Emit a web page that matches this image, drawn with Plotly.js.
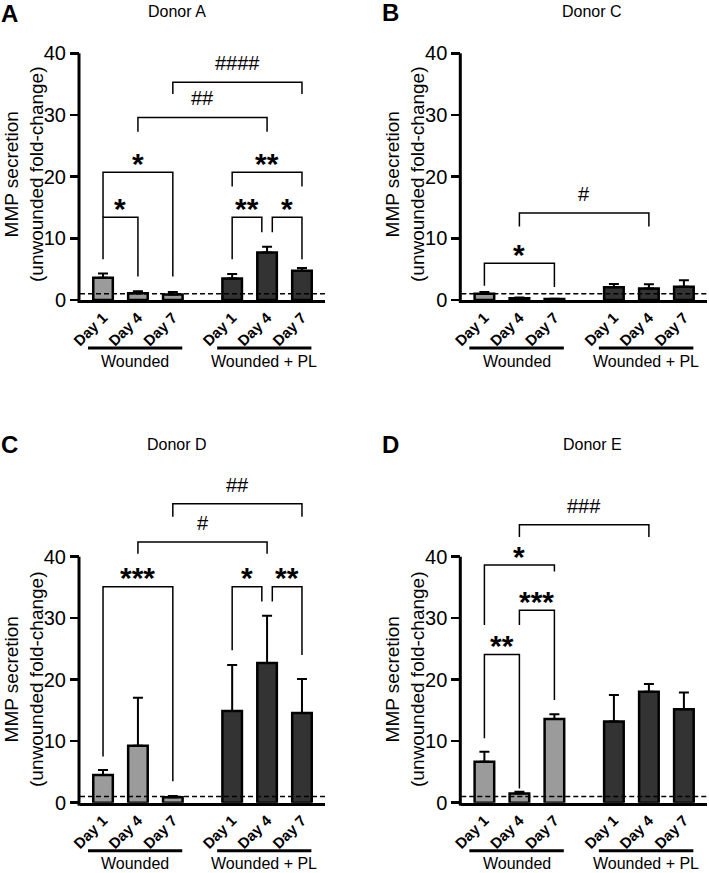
<!DOCTYPE html>
<html><head><meta charset="utf-8">
<script src="https://cdn.plot.ly/plotly-3.0.1.min.js"></script>
<style>html,body{margin:0;padding:0;background:#fff;}</style>
</head><body>
<div id="chart" style="width:709px;height:873px;"></div>
<script>
// ---------- data ----------
const days = ['Day 1', 'Day 4', 'Day 7'];
const groupNames = ['Wounded', 'Wounded + PL'];
const donorNames = ['Donor A', 'Donor C', 'Donor D', 'Donor E'];
const panelLetters = ['A', 'B', 'C', 'D'];
const yTicks = [0, 10, 20, 30, 40];
const baseline = 1;

const woundedA = [3.6, 1.1, 0.9];
const woundedErrA = [0.7, 0.3, 0.4];
const plA = [3.5, 7.7, 4.75];
const plErrA = [0.7, 0.95, 0.45];

const woundedC = [1.0, 0.3, 0.15];
const woundedErrC = [0.3, 0.1, 0.05];
const plC = [2.05, 1.85, 2.15];
const plErrC = [0.55, 0.7, 1.05];

const woundedD = [4.5, 9.25, 0.9];
const woundedErrD = [0.8, 7.8, 0.2];
const plD = [14.9, 22.7, 14.6];
const plErrD = [7.5, 7.7, 5.5];

const woundedE = [6.65, 1.5, 13.6];
const woundedErrE = [1.65, 0.3, 0.8];
const plE = [13.2, 18.05, 15.2];
const plErrE = [4.3, 1.25, 2.7];

// significance: [bar i, bar j, bracket top, left end, right end, label]
const sigA = [
  [0, 1, 13.4, 6.6, 3.8, '*'],
  [0, 2, 20.7, 13.4, 3.8, '*'],
  [1, 4, 29.6, 27.3, 27.3, '##'],
  [2, 5, 35.3, 33.4, 33.4, '####'],
  [3, 4, 13.4, 6.6, 11.0, '**'],
  [4, 5, 13.4, 11.0, 6.6, '*'],
  [3, 5, 20.7, 18.4, 18.4, '**']
];
const sigC = [
  [0, 2, 5.95, 2.3, 2.1, '*'],
  [1, 4, 14.1, 11.9, 11.9, '#']
];
const sigD = [
  [0, 2, 35.1, 7.5, 3.5, '***'],
  [1, 4, 42.4, 40.5, 40.5, '#'],
  [2, 5, 48.6, 46.5, 46.5, '##'],
  [3, 4, 35.1, 24.8, 32.7, '*'],
  [4, 5, 35.1, 32.7, 24.0, '**']
];
const sigE = [
  [0, 1, 24.1, 10.5, 2.3, '**'],
  [1, 2, 31.3, 28.9, 16.7, '***'],
  [0, 2, 38.65, 28.9, 37.6, '*'],
  [1, 4, 45.2, 43.2, 43.2, '###']
];

// ---------- layout helpers ----------
const W = 709, H = 873;
const xPos = [0, 1, 2, 3.7, 4.7, 5.7];
const xRange = [-0.66, 6.36];
const FONT = 'Liberation Sans, Arial, Helvetica, sans-serif';

const panels = [
  {w: woundedA, we: woundedErrA, p: plA, pe: plErrA, sig: sigA, px: [80, 325], py: [53.3, 300], yMax: 40, letter: [9, 14], title: [177, 12], ytitle: [24, 174]},
  {w: woundedC, we: woundedErrC, p: plC, pe: plErrC, sig: sigC, px: [461.3, 707], py: [53.3, 300], yMax: 40, letter: [390, 13], title: [592, 12], ytitle: [405, 174]},
  {w: woundedD, we: woundedErrD, p: plD, pe: plErrD, sig: sigD, px: [80, 325], py: [470.6, 802.7], yMax: 54, letter: [9, 444], title: [177, 445], ytitle: [24, 679]},
  {w: woundedE, we: woundedErrE, p: plE, pe: plErrE, sig: sigE, px: [461.3, 707], py: [470.6, 802.7], yMax: 54, letter: [390, 444], title: [592, 445], ytitle: [405, 679]}
];

const traces = [];
const shapes = [];
const annotations = [];
const layout = {
  width: W, height: H,
  margin: {l: 0, r: 0, t: 0, b: 0},
  paper_bgcolor: '#fff', plot_bgcolor: 'rgba(0,0,0,0)',
  showlegend: false,
  font: {family: FONT, color: '#000'},
  bargap: 0
};

function legOffset(sig, k, barIdx, side) {
  // nudge bracket legs when two brackets meet on the same bar at the same level
  const s = sig[k];
  for (let m = 0; m < sig.length; m++) {
    if (m === k) continue;
    const o = sig[m];
    if (side === 'right' && o[0] === barIdx && o[2] === s[2] && o[1] !== s[0]) return -0.15;
    if (side === 'left' && o[1] === barIdx && o[2] === s[2] && o[0] !== s[1]) return 0.15;
  }
  return 0;
}

panels.forEach((pn, idx) => {
  const n = idx + 1;
  const xa = n === 1 ? 'x' : 'x' + n;
  const ya = n === 1 ? 'y' : 'y' + n;
  const xKey = n === 1 ? 'xaxis' : 'xaxis' + n;
  const yKey = n === 1 ? 'yaxis' : 'yaxis' + n;
  const dx = [pn.px[0] / W, pn.px[1] / W];
  const dy = [1 - pn.py[1] / H, 1 - pn.py[0] / H];
  const plotHpx = pn.py[1] - pn.py[0];
  const plotWpx = pn.px[1] - pn.px[0];

  layout[xKey] = {
    domain: dx, anchor: ya, range: xRange, fixedrange: true,
    showline: true, linewidth: 3, linecolor: '#000', mirror: false,
    ticks: '', showgrid: false, zeroline: false,
    tickmode: 'array', tickvals: xPos, ticktext: days.concat(days),
    tickangle: -45, tickfont: {family: FONT, size: 15, weight: 'bold', color: '#000'}
  };
  layout[yKey] = {
    domain: dy, anchor: xa, range: [0, pn.yMax], fixedrange: true,
    showline: false, showgrid: false, zeroline: false,
    ticks: 'outside', ticklen: 9, tickwidth: 2.5, tickcolor: '#000',
    tickmode: 'array', tickvals: yTicks, ticktext: yTicks.map(String),
    tickfont: {family: FONT, size: 20, color: '#000'}
  };

  traces.push({
    type: 'bar', x: xPos.slice(0, 3), y: pn.w, xaxis: xa, yaxis: ya, width: 0.56,
    marker: {color: '#9b9b9b', line: {color: '#000', width: 2.5}},
    error_y: {type: 'data', array: pn.we, arrayminus: [0, 0, 0], symmetric: false, color: '#000', thickness: 2, width: 5},
    hoverinfo: 'skip'
  });
  traces.push({
    type: 'bar', x: xPos.slice(3, 6), y: pn.p, xaxis: xa, yaxis: ya, width: 0.56,
    marker: {color: '#333333', line: {color: '#000', width: 2.5}},
    error_y: {type: 'data', array: pn.pe, arrayminus: [0, 0, 0], symmetric: false, color: '#000', thickness: 2, width: 5},
    hoverinfo: 'skip'
  });

  // y axis line from 0 to 40
  shapes.push({
    type: 'line', xref: xa + ' domain', yref: ya + ' domain',
    x0: -1 / plotWpx, x1: -1 / plotWpx, y0: -3 / plotHpx, y1: 40 / pn.yMax,
    line: {color: '#000', width: 3}
  });
  // dashed baseline
  shapes.push({
    type: 'line', xref: xa + ' domain', yref: ya + ' domain',
    x0: 0, x1: 1, y0: baseline / pn.yMax, y1: baseline / pn.yMax,
    line: {color: '#000', width: 1.5, dash: '5px,3px'}
  });

  // group underline + labels
  const toDom = v => (v - xRange[0]) / (xRange[1] - xRange[0]);
  [[0, 2], [3, 5]].forEach((g, gi) => {
    const gx0 = xPos[g[0]] - 0.43, gx1 = xPos[g[1]] + 0.27;
    shapes.push({
      type: 'line', xref: xa + ' domain', yref: ya + ' domain',
      x0: toDom(gx0), x1: toDom(gx1), y0: -48 / plotHpx, y1: -48 / plotHpx,
      line: {color: '#000', width: 3}
    });
    annotations.push({
      xref: xa, yref: ya + ' domain', x: (gx0 + gx1) / 2, y: -61 / plotHpx,
      xanchor: 'center', yanchor: 'middle', showarrow: false,
      text: groupNames[gi], font: {family: FONT, size: 16, color: '#000'}
    });
  });

  // significance brackets
  pn.sig.forEach((s, k) => {
    const x1 = xPos[s[0]] + legOffset(pn.sig, k, s[0], 'left');
    const x2 = xPos[s[1]] + legOffset(pn.sig, k, s[1], 'right');
    shapes.push({
      type: 'path', xref: xa, yref: ya,
      path: `M ${x1},${s[3]} L ${x1},${s[2]} L ${x2},${s[2]} L ${x2},${s[4]}`,
      line: {color: '#000', width: 1.5}
    });
    const isStar = s[5].indexOf('*') >= 0;
    annotations.push({
      xref: xa, yref: ya, x: (x1 + x2) / 2, y: s[2],
      xanchor: 'center', yanchor: 'middle', yshift: isStar ? 9 : 19,
      showarrow: false, text: s[5],
      font: isStar ? {family: FONT, size: 30, weight: 'bold', color: '#000'} : {family: FONT, size: 20, color: '#000'}
    });
  });

  // panel letter, donor title, y-axis title
  annotations.push({
    xref: 'paper', yref: 'paper', x: pn.letter[0] / W, y: 1 - pn.letter[1] / H,
    xanchor: 'center', yanchor: 'middle', showarrow: false, text: panelLetters[idx],
    font: {family: FONT, size: 24, weight: 'bold', color: '#000'}
  });
  annotations.push({
    xref: 'paper', yref: 'paper', x: pn.title[0] / W, y: 1 - pn.title[1] / H,
    xanchor: 'center', yanchor: 'middle', showarrow: false, text: donorNames[idx],
    font: {family: FONT, size: 16, color: '#000'}
  });
  annotations.push({
    xref: 'paper', yref: 'paper', x: pn.ytitle[0] / W, y: 1 - pn.ytitle[1] / H,
    xanchor: 'center', yanchor: 'middle', showarrow: false, textangle: -90,
    text: 'MMP secretion<br>(unwounded fold-change)',
    font: {family: FONT, size: 19, color: '#000'}
  });
});

layout.shapes = shapes;
layout.annotations = annotations;

Plotly.newPlot('chart', traces, layout, {staticPlot: true, displayModeBar: false});
</script>
</body></html>
